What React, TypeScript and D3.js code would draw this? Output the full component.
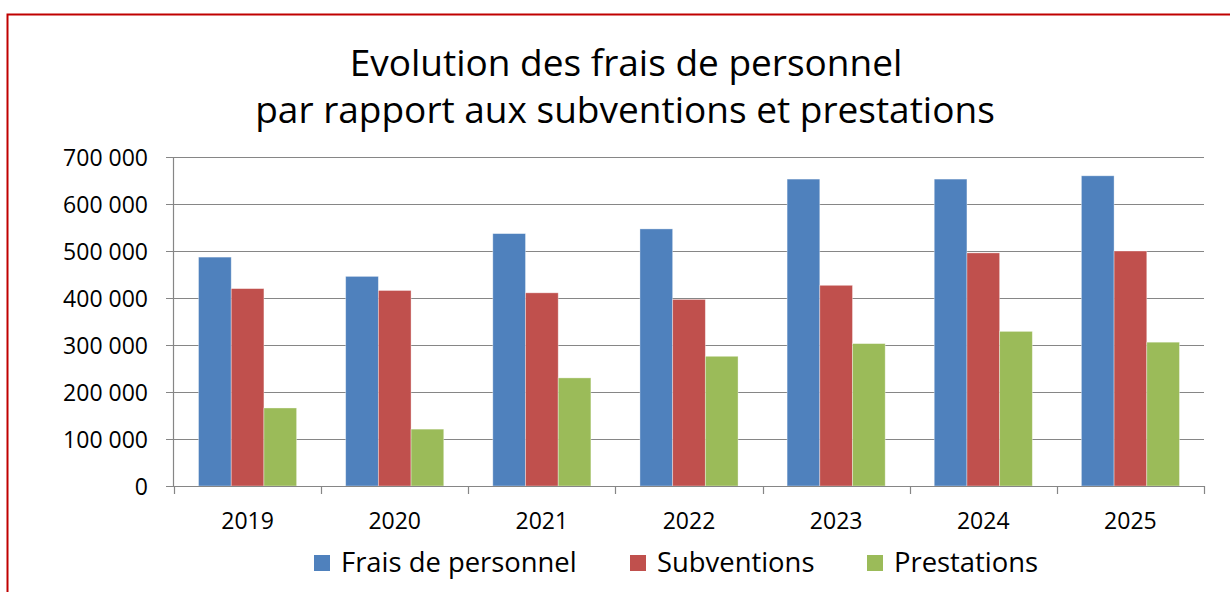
import React from 'react';
import * as d3 from 'd3';

const years = ['2019', '2020', '2021', '2022', '2023', '2024', '2025'];
const seriesNames = ['Frais de personnel', 'Subventions', 'Prestations'];
const fraisPersonnel = [487000, 446000, 537000, 547000, 653000, 653000, 660000];
const subventions = [420000, 416000, 411000, 397000, 427000, 496000, 500000];
const prestations = [166000, 121000, 230000, 276000, 303000, 329000, 306000];
const yTicks = [0, 100000, 200000, 300000, 400000, 500000, 600000, 700000];
const colors = ['#4F81BD', '#C0504D', '#9BBB59'];

const FONT = '"Open Sans", sans-serif';

const fmt = (v: number) => d3.format(',')(v).replace(/,/g, ' ');

const App = () => {
    const left = 174, right = 1204, top = 157, bottom = 486;
    const values = [fraisPersonnel, subventions, prestations];

    const x0 = d3.scaleBand().domain(years).range([left, right]).padding(0);
    const x1 = d3.scaleBand().domain(seriesNames).range([0, x0.bandwidth()]).paddingInner(0).paddingOuter(0.75);
    const y = d3.scaleLinear().domain([0, 700000]).range([bottom, top]);

    const legendX = [314, 630, 867];
    const catTicks = years.map(d => x0(d) as number).concat([right]);

    return (
        <svg width={1230} height={592} style={{position: 'absolute', left: 0, top: 0}}>
            <rect x={0} y={0} width={1230} height={592} fill="#fff" />
            <rect x={7.5} y={14.5} width={1240} height={600} fill="none" stroke="#C00000" strokeWidth={2} />

            <text x={626} y={76} textAnchor="middle" fontFamily={FONT} fontSize={37} fill="#000">Evolution des frais de personnel</text>
            <text x={625} y={123} textAnchor="middle" fontFamily={FONT} fontSize={37} fill="#000">par rapport aux subventions et prestations</text>

            {/* grid + y ticks */}
            {yTicks.map(t => (
                <g key={t}>
                    <line x1={166} x2={right} y1={Math.round(y(t)) + 0.5} y2={Math.round(y(t)) + 0.5} stroke="#868686" strokeWidth={1.2} />
                    <text x={148} y={y(t) + 8.5} textAnchor="end" fontFamily={FONT} fontSize={23} fill="#000">{fmt(t)}</text>
                </g>
            ))}
            <line x1={left - 0.5} x2={left - 0.5} y1={top} y2={bottom} stroke="#868686" strokeWidth={1.2} />

            {/* bars */}
            {years.map((yr, i) => (
                <g key={yr} transform={`translate(${x0(yr)},0)`}>
                    {seriesNames.map((s, j) => (
                        <rect key={s} x={x1(s)} y={y(values[j][i])} width={x1.bandwidth()} height={bottom - y(values[j][i])}
                            fill={colors[j]} stroke="#fff" strokeOpacity={0.45} strokeWidth={0.8} />
                    ))}
                </g>
            ))}

            {/* x axis */}
            <line x1={left} x2={right} y1={bottom + 0.5} y2={bottom + 0.5} stroke="#868686" strokeWidth={1.2} />
            {catTicks.map((t, i) => (
                <line key={i} x1={Math.round(t) + 0.5} x2={Math.round(t) + 0.5} y1={bottom} y2={bottom + 8} stroke="#868686" strokeWidth={1.2} />
            ))}
            {years.map(yr => (
                <text key={yr} x={(x0(yr) as number) + x0.bandwidth() / 2} y={529} textAnchor="middle" fontFamily={FONT} fontSize={23} fill="#000">{yr}</text>
            ))}

            {/* legend */}
            {seriesNames.map((s, j) => (
                <g key={s}>
                    <rect x={legendX[j]} y={555} width={16} height={16} fill={colors[j]} />
                    <text x={legendX[j] + 27} y={572} fontFamily={FONT} fontSize={27.4} fill="#000">{s}</text>
                </g>
            ))}
        </svg>
    );
};

export default App;
